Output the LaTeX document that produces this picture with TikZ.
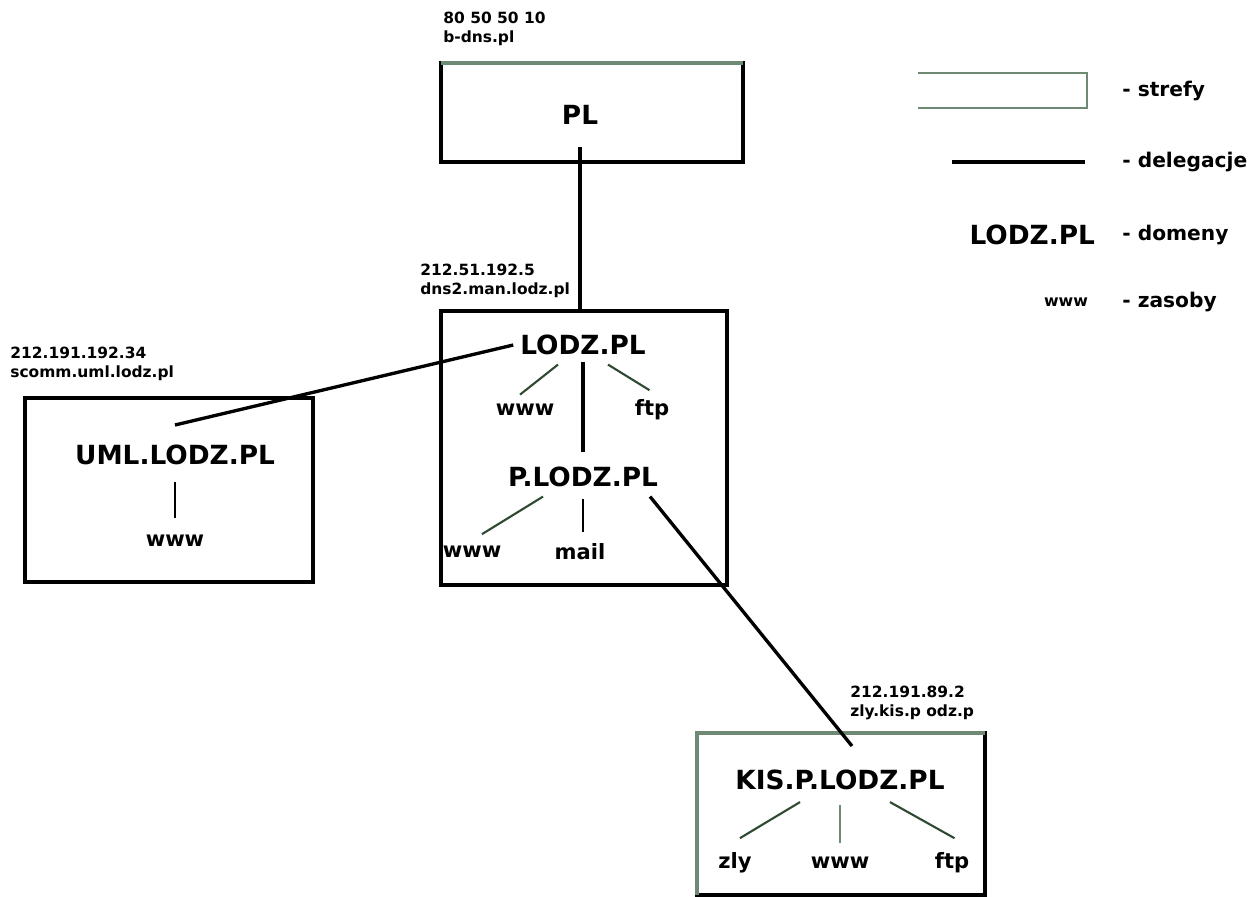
\documentclass[tikz,border=0pt]{standalone}
\usepackage{fontspec}
\setmainfont{DejaVu Sans}
\usetikzlibrary{positioning}
\definecolor{zonegreen}{HTML}{6E8A74}
\definecolor{resgreen}{HTML}{2E4A32}

\begin{document}
\begin{tikzpicture}[x=0.02cm,y=-0.02cm,
  zone/.style={line width=1.9pt,draw=black},
  deleg/.style={line width=1.9pt,black},
  res/.style={line width=1.2pt,resgreen},
  dom/.style={font=\bfseries\fontsize{15}{17}\selectfont,inner sep=1pt},
  rsrc/.style={font=\bfseries\fontsize{12}{14}\selectfont,inner sep=1pt},
  srv/.style={font=\bfseries\fontsize{8.8}{10.5}\selectfont,anchor=west,align=left,inner sep=0pt},
  leg/.style={font=\bfseries\fontsize{11.5}{13}\selectfont,anchor=west,inner sep=0pt}]
  \useasboundingbox (0,0) rectangle (1260,896);
  % zones
  \draw[zone] (441,63) rectangle (743,162);
  \draw[zonegreen,line width=1.9pt] (441,63) -- (743,63);
  \draw[zone] (441,311) rectangle (727,585);
  \draw[zone] (25,398) rectangle (313,582);
  \draw[zone] (697,733) rectangle (985,895);
  \draw[zonegreen,line width=1.9pt] (697,895) -- (697,733) -- (985,733);
  % servers
  \node[srv] (pls) at (443,29) {80 50 50 10\\b-dns.pl};
  \node[srv] (lodzs) at (420,281) {212.51.192.5\\dns2.man.lodz.pl};
  \node[srv] (umls) at (10,364) {212.191.192.34\\scomm.uml.lodz.pl};
  \node[srv] (kiss) at (850,703) {212.191.89.2\\zly.kis.p odz.p};
  % domains
  \node[dom] (pl) at (580,115) {PL};
  \node[dom] (lodz) at (583,345) {LODZ.PL};
  \node[dom] (plodz) at (583,477) {P.LODZ.PL};
  \node[dom] (uml) at (175,455) {UML.LODZ.PL};
  \node[dom] (kis) at (840,780) {KIS.P.LODZ.PL};
  % resources
  \node[rsrc] (lwww) at (525,410) {www};
  \node[rsrc] (lftp) at (652,410) {ftp};
  \node[rsrc] (pwww) at (472,552) {www};
  \node[rsrc] (pmail) at (580,552) {mail};
  \node[rsrc] (uwww) at (175,541) {www};
  \node[rsrc] (kzly) at (735,863) {zly};
  \node[rsrc] (kwww) at (840,863) {www};
  \node[rsrc] (kftp) at (952,863) {ftp};
  % delegations
  \coordinate (lodztop) at (580,311);
  \coordinate (umlin) at (175,425);
  \coordinate (kisin) at (852,746);
  \draw[deleg] ([yshift=-0.4cm]pl.south) -- (lodztop);
  \draw[deleg] ([xshift=-0.1cm]lodz.west) -- (umlin);
  \draw[deleg] ([yshift=-0.1cm]lodz.south) -- ([yshift=0.25cm]plodz.north);
  \draw[deleg] ([xshift=-0.2cm,yshift=-0.15cm]plodz.south east) -- (kisin);
  % resource links
  \draw[res] ([xshift=-0.5cm,yshift=-0.15cm]lodz.south) -- ([xshift=-0.1cm,yshift=0.15cm]lwww.north);
  \draw[res] ([xshift=0.5cm,yshift=-0.15cm]lodz.south) -- ([xshift=-0.05cm,yshift=0.15cm]lftp.north);
  \draw[res] ([xshift=-0.8cm,yshift=-0.15cm]plodz.south) -- ([xshift=0.2cm,yshift=0.2cm]pwww.north);
  \draw[deleg,line width=1.5pt] ([yshift=-0.2cm]plodz.south) -- ([yshift=0.2cm]pmail.north -| plodz.south);
  \draw[deleg,line width=1.5pt] ([yshift=-0.3cm]uml.south) -- ([yshift=0.3cm]uwww.north);
  \draw[res] ([xshift=-0.8cm,yshift=-0.2cm]kis.south) -- ([xshift=0.1cm,yshift=0.25cm]kzly.north);
  \draw[res,zonegreen] ([yshift=-0.25cm]kis.south) -- ([yshift=0.25cm]kwww.north);
  \draw[res] ([xshift=1cm,yshift=-0.2cm]kis.south) -- ([xshift=0.05cm,yshift=0.25cm]kftp.north);
  % legend
  \draw[zonegreen,line width=1.6pt] (918,73) -- (1087,73) -- (1087,108) -- (918,108);
  \node[leg] (lzone) at (1122,91) {- strefy};
  \draw[deleg] (952,162) -- (1085,162);
  \node[leg] (ldeleg) at (1122,162) {- delegacje};
  \node[dom,anchor=east] (ldom) at (1097,235) {LODZ.PL};
  \node[leg] (ldomt) at (1122,235) {- domeny};
  \node[rsrc,anchor=east,font=\bfseries\fontsize{9}{11}\selectfont] (lres) at (1090,302) {www};
  \node[leg] (lrest) at (1122,302) {- zasoby};
\end{tikzpicture}
\end{document}
